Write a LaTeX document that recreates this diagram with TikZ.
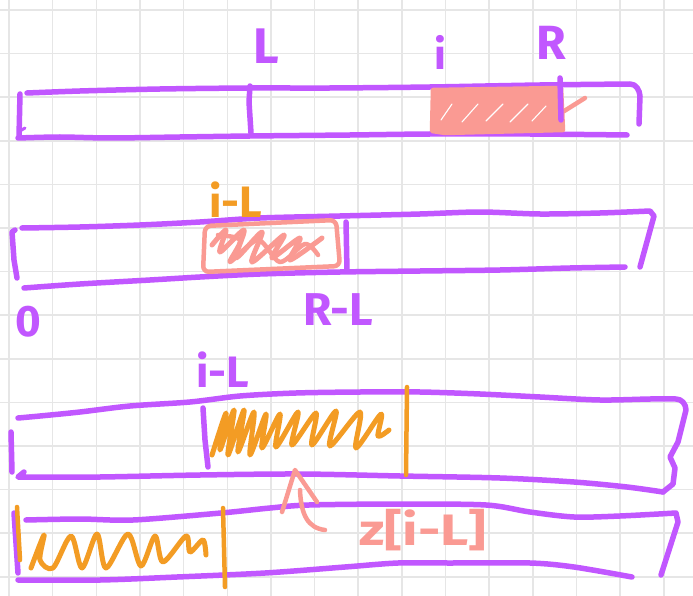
\documentclass[tikz,border=0pt]{standalone}
\usepackage{fontspec}
\setmainfont{Fira Sans}
\definecolor{purp}{HTML}{C157FF}
\definecolor{orng}{HTML}{F39C24}
\definecolor{pnk}{HTML}{FA9A93}
\definecolor{gridc}{HTML}{E6E6E6}
\begin{document}
\begin{tikzpicture}[x=1pt,y=-1pt,line cap=round,line join=round,
  gridline/.style={draw=gridc,line width=1.5pt},
  barpen/.style={draw=purp,line width=5.5pt},
  orgpen/.style={draw=orng,line width=4.5pt},
  pinkpen/.style={draw=pnk,line width=4.5pt},
  purplabel/.style={text=purp,inner sep=0pt},
  orglabel/.style={text=orng,inner sep=0pt},
  pinklabel/.style={text=pnk,inner sep=0pt}]
\useasboundingbox (0,0) rectangle (693,596);
\fill[white] (0,0) rectangle (693,596);
% grid
\foreach \i in {0,...,15} \draw[gridline] ({9+43.65*\i},0) -- ({9+43.65*\i},596);
\foreach \j in {0,...,13} \draw[gridline] (0,{10+43.6*\j}) -- (693,{10+43.6*\j});

% ---------- row 1 ----------
\draw[barpen] plot[smooth] coordinates {(27,93) (80,91) (160,89) (250,88) (330,88) (430,87) (540,85) (630,84)}
  to[out=0,in=95] (640,96) -- (639,124);
\draw[barpen] plot[smooth] coordinates {(18,138) (60,137) (110,138) (180,137) (250,136) (350,135) (430,134) (530,134) (627,135)};
\draw[barpen] (20,94) -- (19,137);
\draw[barpen,line width=3pt] (20,131) -- (25,128);
\draw[barpen] (250,86) -- (249,102) -- (251,133);
\fill[pnk] (433,90) -- (561,88) -- (563,130) -- (445,133) -- (432,131) -- cycle;
\draw[pinkpen] (433,90) -- (561,88) -- (563,130) -- (445,133) -- (432,131) -- cycle;
\draw[white,line width=1.1pt] (441,120) -- (452,104) (462,122) -- (478,104) (486,121) -- (503,104) (510,122) -- (528,104) (532,121) -- (546,106);
\draw[pinkpen] (545,123) -- (585,98);
\draw[barpen] (560,78) -- (561,120);
\node[purplabel,font=\bfseries\fontsize{50}{50}\selectfont] (lblL) at (266,46) {L};
\node[purplabel,font=\bfseries\fontsize{42}{42}\selectfont] (lbli) at (440,52) {i};
\node[purplabel,font=\bfseries\fontsize{48}{48}\selectfont] (lblR) at (551,43) {R};

% ---------- row 2 ----------
\draw[barpen] plot[smooth] coordinates {(22,228) (80,227) (140,225) (200,222) (260,218) (340,216) (420,214) (480,212) (540,214) (600,213) (650,211)}
  -- (654,216) -- (640,267);
\draw[barpen] plot[smooth] coordinates {(24,288) (80,284) (150,280) (200,277) (260,274) (340,272) (420,271) (500,270) (570,268) (625,267)};
\draw[barpen] (15,230) -- (12,232) -- (14,260) -- (17,278);
\draw[barpen] (346,222) -- (347,271);
\draw[pinkpen,rounded corners=6pt] (205,226) -- (336,220) -- (340,266) -- (203,272) -- cycle;
\draw[pinkpen,line width=5pt] plot[smooth] coordinates {(212,245) (226,230) (220,252) (244,230) (236,258) (262,232) (252,262) (284,235) (272,258) (300,238) (290,260) (322,238)};
\draw[pinkpen,line width=4.5pt] plot[smooth] coordinates {(218,235) (240,240) (230,262) (258,240) (280,262) (305,244) (318,255)};
\node[orglabel,font=\bfseries\fontsize{44}{44}\selectfont] (lbliL1) at (236,200) {i-L};
\node[purplabel,font=\bfseries\fontsize{46}{46}\selectfont] (lblRL) at (338,310) {R-L};
\node[purplabel,font=\bfseries\fontsize{44}{44}\selectfont] (lbl0) at (28,322) {0};

% ---------- row 3 ----------
\draw[barpen] plot[smooth] coordinates {(18,418) (40,416) (80,412) (130,406) (190,402) (240,396) (296,393) (360,392) (420,392) (480,394) (540,397) (600,400) (650,399) (676,399)}
  to[out=0,in=90] (686,410) -- (678,442) -- (670,457) -- (675,468) -- (673,484) -- (663,492);
\draw[barpen] plot[smooth] coordinates {(663,492) (627,487) (574,482) (500,478) (400,476) (300,474) (200,475) (100,477) (40,477) (18,477)} -- (24,472);
\draw[barpen] (11,432) -- (12,472);
\draw[barpen] (203,408) -- (205,440) -- (208,467);
\draw[orgpen,line width=5pt] plot[smooth] coordinates {(212,455) (226,413) (220,450) (234,410) (228,455) (244,410) (238,452) (254,412) (250,455) (266,414) (262,448) (280,414) (276,447) (298,412) (292,445) (316,413) (312,445) (336,411) (330,446) (360,412) (356,448) (381,414) (378,436) (389,430)};
\draw[orgpen] (407,387) -- (406,475);
\node[purplabel,font=\bfseries\fontsize{44}{44}\selectfont] (lbliL2) at (223,370) {i-L};

% ---------- row 4 ----------
\draw[barpen] plot[smooth] coordinates {(26,520) (80,519) (133,520) (221,513) (270,508) (309,505) (400,504) (486,505) (530,512) (574,517) (620,516) (676,513)}
  -- (678,522) -- (661,575);
\draw[barpen] plot[smooth] coordinates {(632,577) (574,567) (530,563) (450,563) (398,563) (345,567) (265,573) (177,577) (100,580) (18,580)};
\draw[barpen] (14,513) -- (18,573);
\draw[orgpen] (17,507) -- (20,560);
\draw[orgpen] (223,508) -- (225,587);
\draw[orgpen,line width=5pt] plot[smooth] coordinates {(31,568) (44,535) (40,560) (53,568) (71,536) (82,568) (97,534) (106,568) (128,534) (141,566) (155,536) (163,562) (186,536) (190,552) (203,540) (206,555)};

% ---------- arrow and label ----------
\coordinate (tip) at (295,470);
\coordinate (tail) at (325,530);
\draw[pinkpen] (282,512) -- (tip) -- (317,502);
\draw[pinkpen] (300,490) .. controls (301,515) and (308,528) .. (tail);
\node[pinklabel,font=\bfseries\fontsize{44}{44}\selectfont,xscale=1.25] (lblz) at (423,530) {z[i-L]};
\end{tikzpicture}
\end{document}
